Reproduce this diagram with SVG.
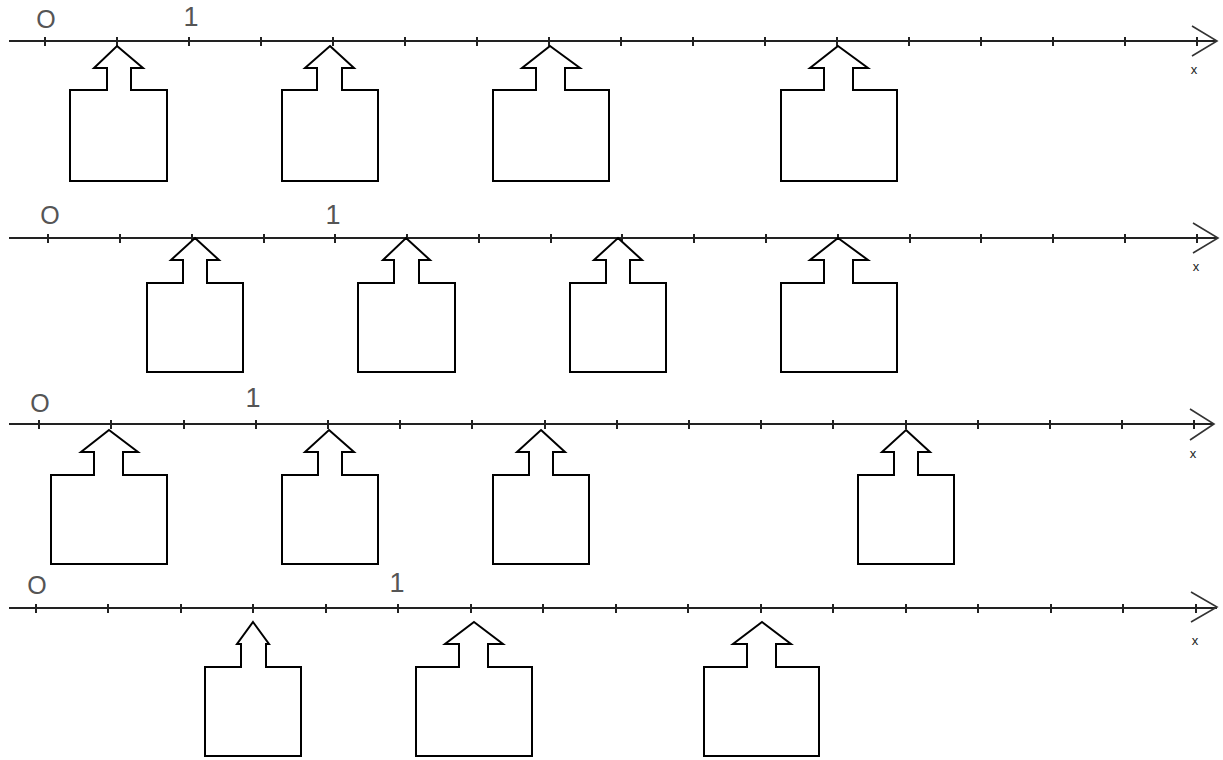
<svg xmlns="http://www.w3.org/2000/svg" width="1223" height="760" viewBox="0 0 1223 760">
<style>
.ax{stroke:#222;stroke-width:2;fill:none}
.tk{stroke:#222;stroke-width:2}
.hd{stroke:#333;stroke-width:1.6;fill:none}
.box{stroke:#000;stroke-width:2;fill:#fff;stroke-linejoin:miter}
.lo{font-family:"Liberation Sans",Arial,sans-serif;font-size:25px;fill:#555;text-anchor:middle}
.l1{font-family:"Liberation Sans",Arial,sans-serif;font-size:27px;fill:#555;text-anchor:middle}
.lx{font-family:"Liberation Sans",Arial,sans-serif;font-size:13px;fill:#222;text-anchor:middle}
</style>
<rect width="1223" height="760" fill="#fff"/>
<g id="axes">
<g id="axis1">
<line class="ax" x1="9" y1="41" x2="1217" y2="41"/>
<path class="hd" d="M1192,26 L1217,41 L1192,56"/>
<path class="tk" d="M45,37v9M117,37v9M189,37v9M261,37v9M333,37v9M405,37v9M477,37v9M549,37v9M621,37v9M693,37v9M765,37v9M837,37v9M909,37v9M981,37v9M1053,37v9M1125,37v9M1197,37v9"/>
<text class="lo" x="46" y="28">O</text>
<text class="l1" x="191" y="26">1</text>
<text class="lx" x="1194" y="74">x</text>
</g>
<g id="axis2">
<line class="ax" x1="9" y1="238" x2="1218" y2="238"/>
<path class="hd" d="M1193,223 L1218,238 L1193,253"/>
<path class="tk" d="M48,234v9M120,234v9M192,234v9M264,234v9M335,234v9M407,234v9M479,234v9M551,234v9M622,234v9M694,234v9M766,234v9M838,234v9M910,234v9M981,234v9M1053,234v9M1125,234v9M1197,234v9"/>
<text class="lo" x="50" y="224">O</text>
<text class="l1" x="333" y="224">1</text>
<text class="lx" x="1196" y="271">x</text>
</g>
<g id="axis3">
<line class="ax" x1="9" y1="424" x2="1214" y2="424"/>
<path class="hd" d="M1190,409 L1214,424 L1190,440"/>
<path class="tk" d="M39,420v9M111,420v9M184,420v9M256,420v9M328,420v9M400,420v9M472,420v9M545,420v9M617,420v9M689,420v9M761,420v9M833,420v9M906,420v9M978,420v9M1050,420v9M1122,420v9M1194,420v9"/>
<text class="lo" x="40" y="412">O</text>
<text class="l1" x="253" y="407">1</text>
<text class="lx" x="1193" y="458">x</text>
</g>
<g id="axis4">
<line class="ax" x1="9" y1="608" x2="1217" y2="608"/>
<path class="hd" d="M1191,592 L1217,607 L1191,622"/>
<path class="tk" d="M36,604v9M108,604v9M181,604v9M253,604v9M326,604v9M398,604v9M471,604v9M543,604v9M616,604v9M688,604v9M761,604v9M833,604v9M906,604v9M978,604v9M1051,604v9M1123,604v9M1196,604v9"/>
<text class="lo" x="37" y="594">O</text>
<text class="l1" x="397" y="592">1</text>
<text class="lx" x="1195" y="645">x</text>
</g>
</g>
<g id="r1a1"><path class="box" d="M117,46 L143,68 L131,68 L131,90 L167,90 L167,181 L70,181 L70,90 L107,90 L107,68 L94,68 Z"/></g>
<g id="r1a2"><path class="box" d="M330,46 L354,68 L342,68 L342,90 L378,90 L378,181 L282,181 L282,90 L317,90 L317,68 L305,68 Z"/></g>
<g id="r1a3"><path class="box" d="M550,46 L580,68 L565,68 L565,90 L609,90 L609,181 L493,181 L493,90 L536,90 L536,68 L522,68 Z"/></g>
<g id="r1a4"><path class="box" d="M838,46 L868,68 L853,68 L853,90 L897,90 L897,181 L781,181 L781,90 L824,90 L824,68 L810,68 Z"/></g>
<g id="r2a1"><path class="box" d="M195,238 L219,260 L207,260 L207,283 L243,283 L243,372 L147,372 L147,283 L183,283 L183,260 L171,260 Z"/></g>
<g id="r2a2"><path class="box" d="M406,238 L430,260 L419,260 L419,283 L455,283 L455,372 L358,372 L358,283 L394,283 L394,260 L383,260 Z"/></g>
<g id="r2a3"><path class="box" d="M618,238 L642,260 L630,260 L630,283 L666,283 L666,372 L570,372 L570,283 L606,283 L606,260 L594,260 Z"/></g>
<g id="r2a4"><path class="box" d="M838,238 L868,260 L853,260 L853,283 L897,283 L897,372 L781,372 L781,283 L824,283 L824,260 L810,260 Z"/></g>
<g id="r3a1"><path class="box" d="M109,430 L138,452 L123,452 L123,475 L167,475 L167,564 L51,564 L51,475 L94,475 L94,452 L81,452 Z"/></g>
<g id="r3a2"><path class="box" d="M329,430 L354,452 L342,452 L342,475 L378,475 L378,564 L282,564 L282,475 L318,475 L318,452 L305,452 Z"/></g>
<g id="r3a3"><path class="box" d="M541,430 L565,452 L553,452 L553,475 L589,475 L589,564 L493,564 L493,475 L529,475 L529,452 L517,452 Z"/></g>
<g id="r3a4"><path class="box" d="M906,430 L930,452 L918,452 L918,475 L954,475 L954,564 L858,564 L858,475 L894,475 L894,452 L882,452 Z"/></g>
<g id="r4a1"><path class="box" d="M253,622 L269,644 L266,644 L266,667 L301,667 L301,756 L205,756 L205,667 L241,667 L241,644 L237,644 Z"/></g>
<g id="r4a2"><path class="box" d="M474,622 L503,644 L488,644 L488,667 L532,667 L532,756 L416,756 L416,667 L459,667 L459,644 L445,644 Z"/></g>
<g id="r4a3"><path class="box" d="M762,622 L791,644 L776,644 L776,667 L819,667 L819,756 L704,756 L704,667 L747,667 L747,644 L733,644 Z"/></g>
</svg>
